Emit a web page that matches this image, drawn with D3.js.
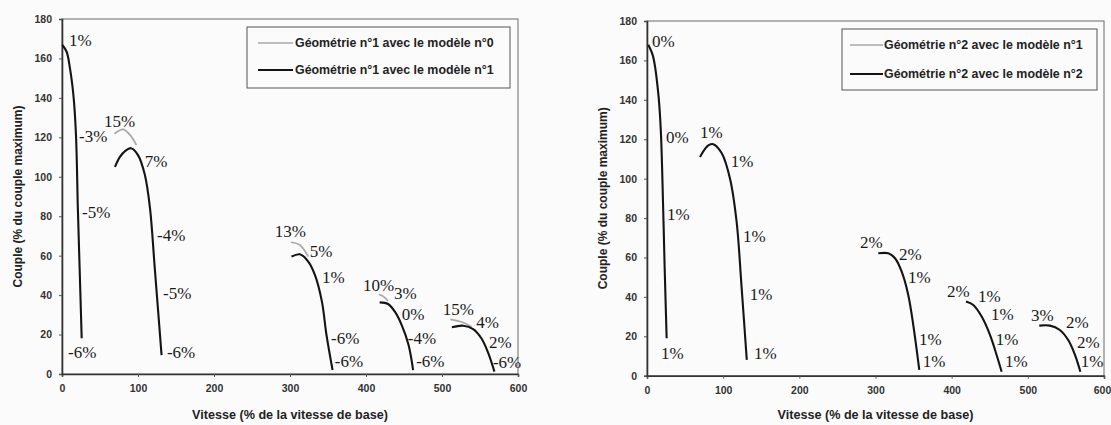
<!DOCTYPE html>
<html><head><meta charset="utf-8">
<script src="https://cdn.jsdelivr.net/npm/d3@7"></script>
<style>
html,body{margin:0;padding:0;background:#fbfbfb;}
svg{display:block;}
</style></head>
<body>
<svg id="c" width="1111" height="425"></svg>
<script>
// ---------- DATA ----------
const xTicks = [0, 100, 200, 300, 400, 500, 600];
const yTicks = [0, 20, 40, 60, 80, 100, 120, 140, 160, 180];
const xTitle = "Vitesse (% de la vitesse de base)";
const yTitle = "Couple (% du couple maximum)";

// Chart 1 : Géométrie n°1 ; [speed, torque]
const legend1 = ["Géométrie n°1 avec le modèle n°0", "Géométrie n°1 avec le modèle n°1"];
const g1_model0 = [
  [[69,121.8],[76,123.6],[81,124],[90,121],[98,116]],
  [[301,66.8],[313,65.4],[324,59.5]],
  [[417,40.4],[424,39],[429,37]],
  [[511,27.7],[525,26.5],[539,24]]
];
const g1_model1 = [
  [[0.4,166.8],[6.1,163.4],[10.5,155],[13.6,146.5],[15.8,138],[18.4,121.2],[19.7,104.3],[20.6,87.4],[23.2,53.6],[25.9,18.1]],
  [[69.7,105],[76,110],[83,113],[90.8,114.5],[100,111],[109,101],[115.8,84],[122,54],[131,9.6]],
  [[302,59.5],[313,60.7],[324,57],[333,50],[342,36.7],[348,19.8],[356,2]],
  [[418,36.3],[429,35.5],[438,31.6],[447,24.8],[456,14.7],[462,2]],
  [[513,23.7],[528,24.5],[541,22.8],[552,18],[561,10.5],[569,1.2]]
];
const g1_labels = [
  ["1%",9.2,166.3],["-3%",22.4,117.6],["15%",55.3,125.3],["7%",109,105],["-5%",26.3,79.1],
  ["-4%",125,67.4],["-5%",133,38],["-6%",7.9,8.1],["-6%",138,8.1],
  ["13%",280,69.5],["5%",326,59.3],["1%",342,46.1],["-6%",354,15.2],["-6%",359,3.5],
  ["10%",396,42.1],["3%",437,38],["0%",447,27.4],["-4%",455,15.2],["-6%",466,3.5],
  ["15%",501,29.9],["4%",545,23.3],["2%",562,13.2],["-6%",567,3]
];

// Chart 2 : Géométrie n°2
const legend2 = ["Géométrie n°2 avec le modèle n°1", "Géométrie n°2 avec le modèle n°2"];
const g2_model1 = [];
const g2_model2 = [
  [[1.7,167.9],[7.4,162.8],[10.9,156],[13.6,147.6],[15.8,139.1],[18.4,122.2],[21,88.3],[23.2,54.5],[25.8,19]],
  [[69.6,111],[76,115],[81,117],[87,117.5],[98,113],[109,100],[117.7,78],[124,46],[131,8]],
  [[303.7,62.1],[316.8,62.1],[325.6,59.6],[334.4,52.8],[343,41],[349.6,25.7],[357.5,2.9]],
  [[418.8,37.6],[428.4,35.9],[439.4,30],[450.3,20.7],[459,10.5],[465.6,2]],
  [[515,25.4],[529,25.4],[542,23.2],[553,18.1],[562,10.5],[569,2]]
];
const g2_labels = [
  ["0%",6.6,166.9],["0%",25,118.1],["1%",69.6,120.7],["1%",110,106],["1%",26.3,79],
  ["1%",126,67.9],["1%",135,38.4],["1%",18.4,8.5],["1%",140.5,8.5],
  ["2%",279.6,64.8],["2%",330.8,58.7],["1%",342.7,47.1],["1%",357,15.6],["1%",362,4.4],
  ["2%",393.9,40],["1%",434.6,37.4],["1%",451.6,28.3],["1%",458,15.6],["1%",470,4.4],
  ["3%",504,27.8],["2%",550,24.2],["2%",564.5,14],["1%",569.6,4.4]
];

// ---------- DRAW ----------
const svg = d3.select("#c");
const sans = "'Liberation Sans', Arial, sans-serif";
const serif = "'Liberation Serif', 'Times New Roman', serif";

function chart(cfg) {
  const x = d3.scaleLinear().domain([0, 600]).range([cfg.x0, cfg.x1]);
  const y = d3.scaleLinear().domain([0, 180]).range([cfg.y0, cfg.y1]);
  const g = svg.append("g");

  // frame
  g.append("rect").attr("x", cfg.x0).attr("y", cfg.y1)
    .attr("width", cfg.x1 - cfg.x0).attr("height", cfg.y0 - cfg.y1)
    .attr("fill", "none").attr("stroke", "#777").attr("stroke-width", 1.1);

  // axes
  const ax = g.append("g").attr("transform", `translate(0,${cfg.y0})`)
    .call(d3.axisBottom(x).tickValues(xTicks).tickSize(3).tickPadding(8).tickFormat(d3.format("d")));
  const ay = g.append("g").attr("transform", `translate(${cfg.x0},0)`)
    .call(d3.axisLeft(y).tickValues(yTicks).tickSize(3).tickPadding(7).tickFormat(d3.format("d")));
  [ax, ay].forEach(a => {
    a.select(".domain").attr("stroke", "#333").attr("stroke-width", 1.6);
    a.selectAll(".tick line").attr("stroke", "#555");
    a.selectAll("text").attr("font-family", sans).attr("font-weight", "bold")
      .attr("font-size", 10.5).attr("fill", "#333");
  });
  if (cfg.lastTickShift) {
    ax.selectAll(".tick text").filter(d => d === 600).attr("dx", cfg.lastTickShift);
  }

  // titles
  g.append("text").attr("x", (cfg.x0 + cfg.x1) / 2).attr("y", 419)
    .attr("text-anchor", "middle").attr("font-family", sans).attr("font-weight", "bold")
    .attr("font-size", 12.6).attr("fill", "#222").text(xTitle);
  g.append("text").attr("transform", `translate(${cfg.yTitleX},${(cfg.y0 + cfg.y1) / 2}) rotate(-90)`)
    .attr("text-anchor", "middle").attr("font-family", sans).attr("font-weight", "bold")
    .attr("font-size", 12).attr("fill", "#222").text(yTitle);

  const line = d3.line().x(d => x(d[0])).y(d => y(d[1])).curve(d3.curveCatmullRom.alpha(0.5));
  g.selectAll(".grey").data(cfg.grey).join("path")
    .attr("d", line).attr("fill", "none").attr("stroke", "#a8a8a8").attr("stroke-width", 1.7);
  g.selectAll(".black").data(cfg.black).join("path")
    .attr("d", line).attr("fill", "none").attr("stroke", "#141414").attr("stroke-width", 2.1);

  g.selectAll(".lab").data(cfg.labels).join("text")
    .attr("x", d => x(d[1])).attr("y", d => y(d[2]))
    .attr("font-family", serif).attr("font-size", 17).attr("fill", "#1a1a1a").text(d => d[0]);

  // legend
  const L = cfg.legend;
  g.append("rect").attr("x", L.x).attr("y", L.y).attr("width", L.w).attr("height", L.h)
    .attr("fill", "#fbfbfb").attr("stroke", "#555").attr("stroke-width", 1);
  cfg.legendText.forEach((t, i) => {
    const yy = L.rows[i];
    g.append("line").attr("x1", L.lx0).attr("x2", L.lx1).attr("y1", yy).attr("y2", yy)
      .attr("stroke", i === 0 ? "#a8a8a8" : "#151515").attr("stroke-width", i === 0 ? 1.6 : 2);
    g.append("text").attr("x", L.tx).attr("y", yy + 4)
      .attr("font-family", sans).attr("font-weight", "bold").attr("font-size", 12.4)
      .attr("fill", "#222").text(t);
  });
}

chart({x0: 62, x1: 518, y0: 374, y1: 19, yTitleX: 22,
  grey: g1_model0, black: g1_model1, labels: g1_labels, legendText: legend1,
  legend: {x: 247, y: 27, w: 263, h: 61, rows: [43, 70], lx0: 258, lx1: 293, tx: 295}});
chart({x0: 647, x1: 1104, y0: 375.7, y1: 21, yTitleX: 607, lastTickShift: -2,
  grey: g2_model1, black: g2_model2, labels: g2_labels, legendText: legend2,
  legend: {x: 842, y: 29, w: 255, h: 61, rows: [45, 74], lx0: 850, lx1: 883, tx: 884}});
</script>
</body></html>
